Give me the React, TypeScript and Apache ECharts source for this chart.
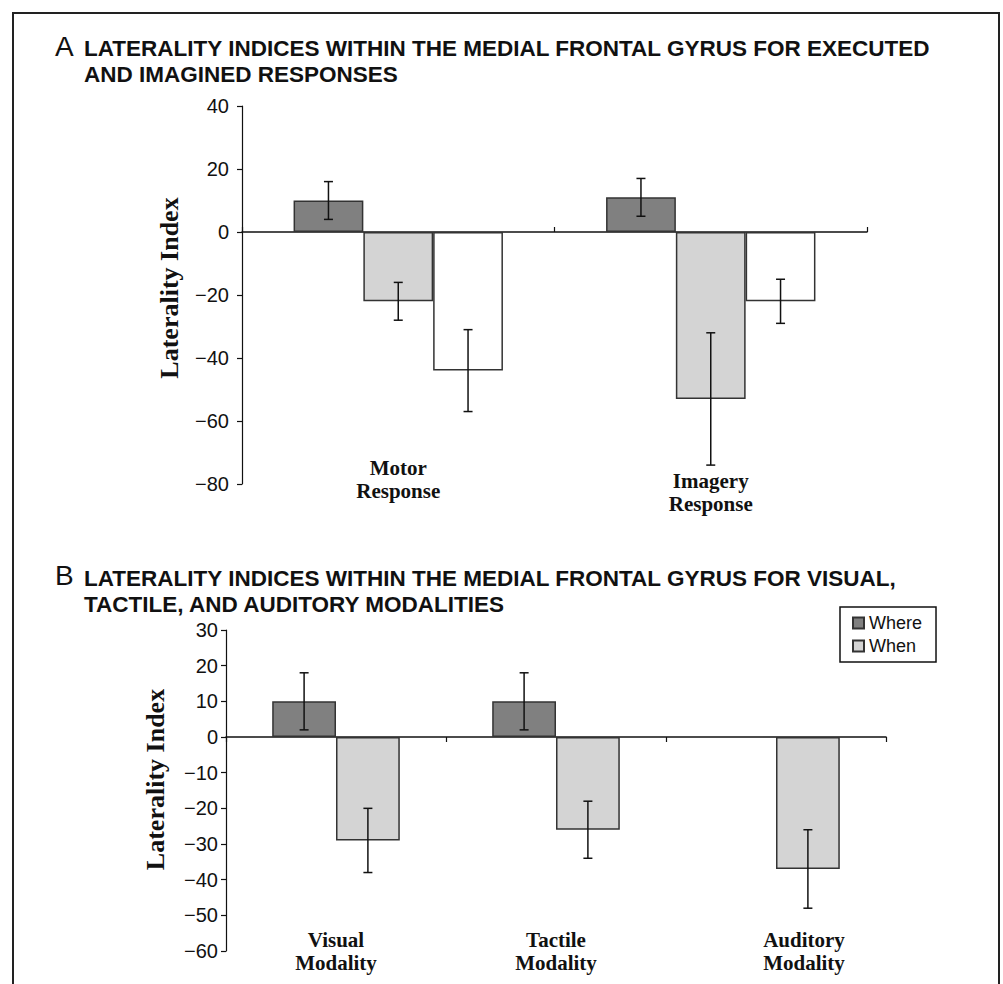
import React, { useEffect, useRef } from 'react';
import * as echarts from 'echarts';

// ---------- Panel A data ----------
const categoriesA = ['Motor Response', 'Imagery Response'];
const whereA = [10, 11];
const whenA = [-22, -53];
const otherA = [-44, -22];
const whereAErr = [[4, 16], [5, 17]];
const whenAErr = [[-28, -16], [-74, -32]];
const otherAErr = [[-57, -31], [-29, -15]];
const yMinA = -80;
const yMaxA = 40;
const yStepA = 20;

// ---------- Panel B data ----------
const categoriesB = ['Visual Modality', 'Tactile Modality', 'Auditory Modality'];
const whereB = [10, 10, null];
const whenB = [-29, -26, -37];
const whereBErr = [[2, 18], [2, 18], null];
const whenBErr = [[-38, -20], [-34, -18], [-48, -26]];
const yMinB = -60;
const yMaxB = 30;
const yStepB = 10;

const titleA = ['LATERALITY INDICES WITHIN THE MEDIAL FRONTAL GYRUS FOR EXECUTED', 'AND IMAGINED RESPONSES'];
const titleB = ['LATERALITY INDICES WITHIN THE MEDIAL FRONTAL GYRUS FOR VISUAL,', 'TACTILE, AND AUDITORY MODALITIES'];

const SANS = "'Liberation Sans', Arial, Helvetica, sans-serif";
const SERIF = "'Liberation Serif', 'Times New Roman', serif";
const GAP_A = 0.33;
const GAP_B = 0.42;

function errData(errs: any[]) {
  const out: any[] = [];
  errs.forEach((e, i) => {
    if (e) out.push([i, e[0], e[1]]);
  });
  return out;
}

function errRender(seriesIdx: number, nSeries: number, gapFrac: number) {
  return (params: any, api: any) => {
    const c = api.value(0);
    const p1 = api.coord([c, api.value(1)]);
    const p2 = api.coord([c, api.value(2)]);
    const band = api.size([1, 0])[0];
    const bw = (band * (1 - gapFrac)) / nSeries;
    const x = p1[0] - (bw * nSeries) / 2 + bw * (seriesIdx + 0.5);
    const cap = 4.5;
    const style = { stroke: '#111', lineWidth: 1.5 };
    return {
      type: 'group',
      children: [
        { type: 'line', shape: { x1: x, y1: p1[1], x2: x, y2: p2[1] }, style },
        { type: 'line', shape: { x1: x - cap, y1: p1[1], x2: x + cap, y2: p1[1] }, style },
        { type: 'line', shape: { x1: x - cap, y1: p2[1], x2: x + cap, y2: p2[1] }, style },
      ],
    };
  };
}

const minusFmt = (v: number) => String(v).replace('-', '\u2212');

const barStyle = (color: string) => ({ color, borderColor: '#333', borderWidth: 1.5 });

export default function App() {
  const ref = useRef<HTMLDivElement>(null);
  useEffect(() => {
    if (!ref.current) return;
    const chart = echarts.init(ref.current, undefined, { renderer: 'svg' });

    const yAxisCommon = (gridIndex: number, min: number, max: number, interval: number, nameGap: number, labelMargin: number, namePad: number) => ({
      type: 'value',
      gridIndex,
      min,
      max,
      interval,
      name: 'Laterality Index',
      nameLocation: 'middle',
      nameGap,
      nameTextStyle: { fontFamily: SERIF, fontWeight: 'bold', fontSize: 26, color: '#111', padding: [0, 0, 0, namePad] },
      axisLine: { show: true, lineStyle: { color: '#111', width: 1.2 } },
      axisTick: { show: true, length: 5, lineStyle: { color: '#111', width: 1.2 } },
      axisLabel: { formatter: minusFmt, fontFamily: SANS, fontSize: 20, color: '#111', margin: labelMargin },
      splitLine: { show: false },
    });

    const titleStyle = { fontFamily: SANS, fontWeight: 'bold', fontSize: 22.5, fill: '#111', textVerticalAlign: 'middle' };

    const option: any = {
      animation: false,
      backgroundColor: '#fff',
      graphic: [
        {
          type: 'rect',
          shape: { x: 13, y: 13, width: 986, height: 1000 },
          style: { fill: 'none', stroke: '#222', lineWidth: 2 },
          silent: true,
        },
        { type: 'text', x: 55, y: 46, style: { text: 'A', fontFamily: SANS, fontSize: 28, fill: '#111', textVerticalAlign: 'middle' } },
        { type: 'text', x: 84, y: 48, style: { ...titleStyle, text: titleA[0] } },
        { type: 'text', x: 84, y: 74, style: { ...titleStyle, text: titleA[1] } },
        { type: 'text', x: 55, y: 575, style: { text: 'B', fontFamily: SANS, fontSize: 28, fill: '#111', textVerticalAlign: 'middle' } },
        { type: 'text', x: 84, y: 578, style: { ...titleStyle, text: titleB[0] } },
        { type: 'text', x: 84, y: 604, style: { ...titleStyle, text: titleB[1] } },
      ],
      legend: {
        data: ['Where', 'When'],
        orient: 'vertical',
        left: 840,
        top: 607,
        icon: 'rect',
        itemWidth: 11,
        itemHeight: 11,
        itemGap: 5,
        padding: [7, 14, 7, 12],
        borderColor: '#111',
        borderWidth: 1.5,
        textStyle: { fontFamily: SANS, fontSize: 18, color: '#111' },
        selectedMode: false,
      },
      grid: [
        { left: 242, right: 1003 - 867, top: 106, bottom: 984 - 484 },
        { left: 226, right: 1003 - 886, top: 630, bottom: 984 - 951 },
      ],
      xAxis: [
        {
          type: 'category',
          gridIndex: 0,
          data: categoriesA,
          axisLine: { show: true, onZero: true, lineStyle: { color: '#111', width: 1.5 } },
          axisTick: { show: true, inside: true, length: 5, lineStyle: { color: '#111', width: 1.2 } },
          axisLabel: { show: false },
          splitLine: { show: false },
        },
        {
          type: 'category',
          gridIndex: 0,
          position: 'bottom',
          data: categoriesA,
          axisLine: { show: false, onZero: false },
          axisTick: { show: false },
          axisLabel: {
            interval: 0,
            margin: -28,
            formatter: (v: string, i: number) => {
              const parts = v.split(' ');
              const body = parts.map((p) => `{a|${p}}`).join('\n');
              return i === 1 ? `{sp|}\n${body}` : body;
            },
            rich: {
              a: { fontFamily: SERIF, fontWeight: 'bold', fontSize: 21, lineHeight: 23, color: '#111' },
              sp: { fontSize: 10, lineHeight: 13 },
            },
          },
        },
        {
          type: 'category',
          gridIndex: 1,
          data: categoriesB,
          axisLine: { show: true, onZero: true, lineStyle: { color: '#111', width: 1.5 } },
          axisTick: { show: true, inside: false, length: 5, lineStyle: { color: '#111', width: 1.2 } },
          axisLabel: { show: false },
          splitLine: { show: false },
        },
        {
          type: 'category',
          gridIndex: 1,
          position: 'bottom',
          data: categoriesB,
          axisLine: { show: false, onZero: false },
          axisTick: { show: false },
          axisLabel: {
            interval: 0,
            margin: -23,
            formatter: (v: string, i: number) => {
              const key = i === 2 ? 'r' : 'a';
              return v.split(' ').map((p) => `{${key}|${p}}`).join('\n');
            },
            rich: {
              a: { fontFamily: SERIF, fontWeight: 'bold', fontSize: 21, lineHeight: 23, color: '#111' },
              r: { fontFamily: SERIF, fontWeight: 'bold', fontSize: 21, lineHeight: 23, color: '#111', padding: [0, 0, 0, 56] },
            },
          },
        },
      ],
      yAxis: [
        yAxisCommon(0, yMinA, yMaxA, yStepA, 60, 13, 14),
        yAxisCommon(1, yMinB, yMaxB, yStepB, 58, 8, 22),
      ],
      series: [
        { name: 'Where', type: 'bar', xAxisIndex: 0, yAxisIndex: 0, data: whereA, barGap: '0%', barCategoryGap: GAP_A * 100 + '%', itemStyle: barStyle('#808080'), z: 2 },
        { name: 'When', type: 'bar', xAxisIndex: 0, yAxisIndex: 0, data: whenA, barGap: '0%', barCategoryGap: GAP_A * 100 + '%', itemStyle: barStyle('#d4d4d4'), z: 2 },
        { name: 'Other', type: 'bar', xAxisIndex: 0, yAxisIndex: 0, data: otherA, barGap: '0%', barCategoryGap: GAP_A * 100 + '%', itemStyle: barStyle('#ffffff'), z: 2 },
        { name: 'Where err A', type: 'custom', xAxisIndex: 0, yAxisIndex: 0, data: errData(whereAErr), encode: { x: 0, y: [1, 2] }, renderItem: errRender(0, 3, GAP_A), z: 5 },
        { name: 'When err A', type: 'custom', xAxisIndex: 0, yAxisIndex: 0, data: errData(whenAErr), encode: { x: 0, y: [1, 2] }, renderItem: errRender(1, 3, GAP_A), z: 5 },
        { name: 'Other err A', type: 'custom', xAxisIndex: 0, yAxisIndex: 0, data: errData(otherAErr), encode: { x: 0, y: [1, 2] }, renderItem: errRender(2, 3, GAP_A), z: 5 },

        { name: 'Where', type: 'bar', xAxisIndex: 2, yAxisIndex: 1, data: whereB, barGap: '0%', barCategoryGap: GAP_B * 100 + '%', itemStyle: barStyle('#808080'), z: 2 },
        { name: 'When', type: 'bar', xAxisIndex: 2, yAxisIndex: 1, data: whenB, barGap: '0%', barCategoryGap: GAP_B * 100 + '%', itemStyle: barStyle('#d4d4d4'), z: 2 },
        { name: 'Where err B', type: 'custom', xAxisIndex: 2, yAxisIndex: 1, data: errData(whereBErr), encode: { x: 0, y: [1, 2] }, renderItem: errRender(0, 2, GAP_B), z: 5 },
        { name: 'When err B', type: 'custom', xAxisIndex: 2, yAxisIndex: 1, data: errData(whenBErr), encode: { x: 0, y: [1, 2] }, renderItem: errRender(1, 2, GAP_B), z: 5 },
      ],
    };
    chart.setOption(option);
    return () => chart.dispose();
  }, []);

  return (
    <div
      ref={ref}
      style={{ position: 'fixed', left: 0, top: 0, width: 1003, height: 984, background: '#fff' }}
    />
  );
}
